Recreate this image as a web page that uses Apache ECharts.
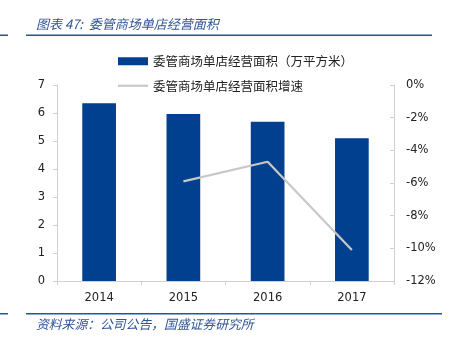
<!DOCTYPE html>
<html><head><meta charset="utf-8">
<script src="https://cdn.jsdelivr.net/npm/echarts@6/dist/echarts.min.js"></script>
<style>html,body{margin:0;padding:0;background:#fff}#c{width:450px;height:340px}</style>
</head><body><div id="c"></div>
<script>
var categories = ['2014', '2015', '2016', '2017'];
var areaValues = [6.35, 5.96, 5.69, 5.10];
var growthValues = [null, -5.9, -4.7, -10.1];
var leftTicks = {min: 0, max: 7, interval: 1};
var rightTicks = {min: -12, max: 0, interval: 2};
var barName = '委管商场单店经营面积（万平方米）';
var lineName = '委管商场单店经营面积增速';
var titleText = '图表 47:  委管商场单店经营面积';
var sourceText = '资料来源：公司公告，国盛证券研究所';

var chart = echarts.init(document.getElementById('c'));
var axisFont = {color: '#222', fontFamily: 'DejaVu Sans', fontSize: 11.5};
chart.setOption({
  animation: false,
  grid: {left: 57, right: 56, top: 85, bottom: 59},
  legend: {
    orient: 'vertical', left: 118, top: 55, padding: 0, itemWidth: 30, itemHeight: 8, itemGap: 12,
    textStyle: {fontFamily: 'Noto Sans CJK SC', fontSize: 12.5, color: '#222'},
    data: [{name: barName, icon: 'rect'},
           {name: lineName, icon: 'path://M0,0H30V2.2H0Z', itemStyle: {color: '#c8c8c8'}}]
  },
  xAxis: {
    type: 'category', data: categories,
    axisLine: {lineStyle: {color: '#d0d0d0'}},
    axisTick: {show: true, length: 4, lineStyle: {color: '#d0d0d0'}},
    axisLabel: Object.assign({margin: 11}, axisFont)
  },
  yAxis: [{
    type: 'value', min: leftTicks.min, max: leftTicks.max, interval: leftTicks.interval,
    splitLine: {show: false},
    axisLine: {show: true, lineStyle: {color: '#d0d0d0'}},
    axisTick: {show: true, length: 4, lineStyle: {color: '#d0d0d0'}},
    axisLabel: Object.assign({margin: 12}, axisFont)
  }, {
    type: 'value', min: rightTicks.min, max: rightTicks.max, interval: rightTicks.interval,
    position: 'right', splitLine: {show: false},
    axisLine: {show: true, lineStyle: {color: '#d0d0d0'}},
    axisTick: {show: true, inside: true, length: 4, lineStyle: {color: '#d0d0d0'}},
    axisLabel: Object.assign({margin: 12, formatter: '{value}%'}, axisFont)
  }],
  series: [{
    name: barName, type: 'bar', data: areaValues, barWidth: '40%',
    itemStyle: {color: '#00408f'}
  }, {
    name: lineName, type: 'line', yAxisIndex: 1, data: growthValues,
    symbol: 'none', showSymbol: false,
    lineStyle: {color: '#c8c8c8', width: 2.2}, itemStyle: {color: '#c8c8c8'}
  }],
  graphic: [
    {type: 'text', left: 36, top: 18, style: {text: titleText, fill: '#2f5597', fontFamily: 'Noto Sans CJK SC', fontSize: 13, fontStyle: 'italic'}},
    {type: 'rect', shape: {x: 0, y: 34.5, width: 8, height: 1.5}, style: {fill: '#1f55a8'}},
    {type: 'rect', shape: {x: 26, y: 34.5, width: 406, height: 1.5}, style: {fill: '#1f55a8'}},
    {type: 'rect', shape: {x: 0, y: 313, width: 8, height: 1.5}, style: {fill: '#1f55a8'}},
    {type: 'rect', shape: {x: 26, y: 313, width: 416, height: 1.5}, style: {fill: '#1f55a8'}},
    {type: 'text', left: 36, top: 318, style: {text: sourceText, fill: '#2f5597', fontFamily: 'Noto Sans CJK SC', fontSize: 12.8, fontStyle: 'italic'}}
  ]
});
</script></body></html>
